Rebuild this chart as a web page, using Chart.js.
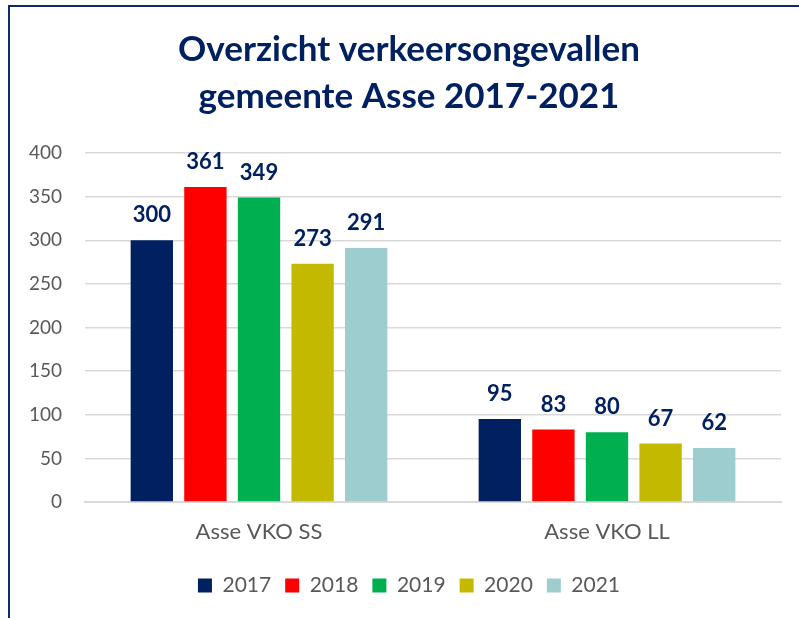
<!DOCTYPE html>
<html>
<head>
<meta charset="utf-8">
<script src="https://cdn.jsdelivr.net/npm/chart.js@4"></script>
<style>
    html, body { margin: 0; padding: 0; background: #fff; overflow: hidden; }
    #frame {
        position: absolute; left: 8px; top: 5px; width: 900px; height: 700px;
        border: 2px solid #0d2a6b; box-sizing: border-box;
    }
    #wrap { position: absolute; left: 0; top: 0; width: 799px; height: 618px; }
</style>
</head>
<body>
<div id="frame"></div>
<div id="wrap"><canvas id="chart"></canvas></div>
<script>
    // Categories and series
    var categories = ['Asse VKO SS', 'Asse VKO LL'];
    var years = ['2017', '2018', '2019', '2020', '2021'];
    var values2017 = [300, 95];
    var values2018 = [361, 83];
    var values2019 = [349, 80];
    var values2020 = [273, 67];
    var values2021 = [291, 62];
    var yTicks = [0, 50, 100, 150, 200, 250, 300, 350, 400];

    var seriesValues = [values2017, values2018, values2019, values2020, values2021];
    var seriesColors = ['#002060', '#ff0000', '#00b050', '#c3ba00', '#9dcdce'];

    var FONT = 'Lato, "Open Sans", sans-serif';
    var NAVY = '#002060';
    var GREY = '#595959';

    /**
     * Draw value labels above the bars
     */
    var valueLabels = {
        id: 'valueLabels',
        afterDatasetsDraw: function(chart) {
            var ctx = chart.ctx;
            ctx.save();
            ctx.font = 'bold 22px ' + FONT;
            ctx.fillStyle = NAVY;
            ctx.textAlign = 'center';
            ctx.textBaseline = 'alphabetic';
            chart.data.datasets.forEach(function(ds, i) {
                chart.getDatasetMeta(i).data.forEach(function(bar, j) {
                    ctx.fillText(ds.data[j], bar.x, bar.y - 18);
                });
            });
            ctx.restore();
        }
    };

    var datasets = years.map(function(year, i) {
        return {
            label: year,
            data: seriesValues[i],
            backgroundColor: seriesColors[i],
            barPercentage: 0.79,
            categoryPercentage: 0.77
        };
    });

    new Chart(document.getElementById('chart'), {
        type: 'bar',
        data: { labels: categories, datasets: datasets },
        options: {
            responsive: true,
            maintainAspectRatio: false,
            animation: false,
            layout: { padding: { left: 37, right: 18, top: 26, bottom: 12 } },
            plugins: {
                title: {
                    display: true,
                    text: ['Overzicht verkeersongevallen', 'gemeente Asse 2017-2021'],
                    color: NAVY,
                    font: { family: FONT, size: 35, weight: 'bold', lineHeight: 1.343 },
                    padding: { top: 0, bottom: 33 }
                },
                legend: {
                    position: 'bottom',
                    labels: {
                        color: GREY,
                        font: { family: FONT, size: 21 },
                        boxWidth: 14,
                        boxHeight: 14,
                        padding: 14
                    }
                },
                tooltip: { enabled: false }
            },
            scales: {
                x: {
                    afterFit: function(axis) { axis.height = 59; },
                    grid: { display: false, drawTicks: false },
                    border: { color: '#d9d9d9', width: 2 },
                    ticks: { color: GREY, font: { family: FONT, size: 22 }, padding: 17 }
                },
                y: {
                    min: 0,
                    max: 400,
                    afterBuildTicks: function(axis) {
                        axis.ticks = yTicks.map(function(v) { return { value: v }; });
                    },
                    afterFit: function(axis) {
                        axis.width = 48;
                        // let the tick labels run into the left padding
                        axis._computeLabelArea = function() { return undefined; };
                    },
                    grid: { color: '#d9d9d9', lineWidth: 1.5, drawTicks: false },
                    border: { display: false },
                    ticks: { color: GREY, font: { family: FONT, size: 19 }, padding: 23 }
                }
            }
        },
        plugins: [valueLabels]
    });
</script>
</body>
</html>
